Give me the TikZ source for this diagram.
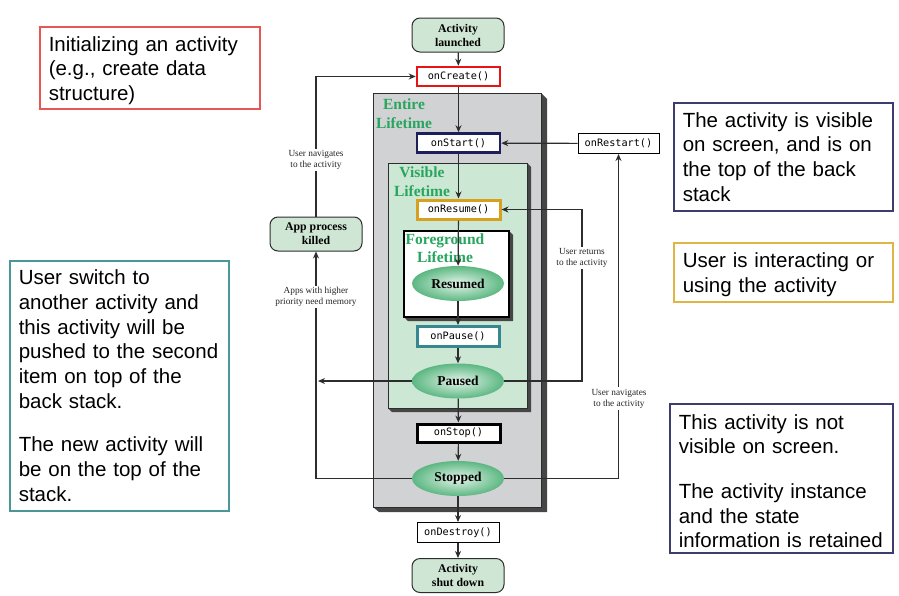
\documentclass[tikz,border=0pt]{standalone}
\usepackage{fontspec}
\setmainfont{Liberation Serif}
\newfontfamily\arialfont{Liberation Sans}
\newfontfamily\codefont{DejaVu Sans Mono}
\usetikzlibrary{arrows.meta,shapes.geometric}
\definecolor{termfill}{RGB}{207,230,212}
\definecolor{greyfill}{RGB}{209,210,212}
\definecolor{visfill}{RGB}{204,232,212}
\definecolor{shadowc}{RGB}{70,70,70}
\definecolor{lifegreen}{RGB}{40,165,95}
\definecolor{ellin}{RGB}{228,244,233}
\definecolor{ellout}{RGB}{92,183,130}
\definecolor{linec}{RGB}{45,45,45}
\definecolor{createc}{RGB}{230,20,20}
\definecolor{startc}{RGB}{30,30,90}
\definecolor{resumec}{RGB}{215,160,30}
\definecolor{pausec}{RGB}{55,135,145}
\definecolor{boxred}{RGB}{232,85,85}
\definecolor{boxnavy}{RGB}{60,60,110}
\definecolor{boxgold}{RGB}{225,180,70}
\definecolor{boxteal}{RGB}{75,150,150}
\tikzset{
  term/.style={draw=linec, line width=1pt, fill=termfill, rounded corners=8pt,
    minimum width=92pt, minimum height=34pt, inner sep=0pt, align=center,
    font=\bfseries\fontsize{11.8}{14}\selectfont},
  method/.style={draw=black, line width=1pt, fill=white, minimum width=83pt,
    minimum height=19pt, inner sep=0pt, font=\codefont\fontsize{10.2}{12}\selectfont},
  state/.style={ellipse, minimum width=92pt, minimum height=35pt, inner sep=0pt,
    inner color=ellin, outer color=ellout, font=\bfseries\fontsize{13.5}{16}\selectfont},
  lifetxt/.style={text=lifegreen, align=center, inner sep=0pt,
    font=\bfseries\fontsize{15.5}{18.5}\selectfont},
  lbl/.style={fill=white, align=center, inner sep=1.5pt,
    font=\fontsize{9.3}{11}\selectfont, text=black!85},
  arr/.style={draw=linec, line width=1.2pt, -{Stealth[length=7pt,width=6pt]}},
  note/.style={line width=1.5pt, fill=white, align=left, inner ysep=0pt,
    font=\arialfont\fontsize{20.5}{24.7}\selectfont, text=black},
}
\begin{document}
\begin{tikzpicture}[x=1pt,y=-1pt]
\useasboundingbox (0,0) rectangle (899,595);

% Entire lifetime box
\fill[shadowc] (541,93) -- (547,99) -- (547,512) -- (379,512) -- (373,507) -- (541,507) -- cycle;
\draw[fill=greyfill, draw=linec, line width=1pt] (373,93) rectangle (541,507);
% Visible lifetime box
\fill[shadowc] (527,163) -- (531,167) -- (531,412) -- (392,412) -- (388,408) -- (527,408) -- cycle;
\draw[fill=visfill, draw=linec, line width=1pt] (388,163) rectangle (527,408);
% Foreground lifetime box
\fill[shadowc] (509,231) -- (513,235) -- (513,321) -- (408,321) -- (404,317) -- (509,317) -- cycle;
\draw[fill=white, draw=black, line width=2pt] (404,231) rectangle (509,317);

\node[lifetxt] (entire) at (404,113.5) {Entire\\Lifetime};
\node[lifetxt] (visible) at (422,181.5) {Visible\\Lifetime};
\node[lifetxt] (fore) at (445,248) {Foreground\\Lifetime};

% main nodes
\node[term] (launch) at (458,35) {Activity\\launched};
\node[method, draw=createc, line width=2.5pt] (create) at (458.5,76.5) {onCreate()};
\node[method, draw=startc, line width=2.5pt] (start) at (458.5,143) {onStart()};
\node[method, minimum width=81pt, minimum height=20pt] (restart) at (618.5,143.5) {onRestart()};
\node[method, draw=resumec, line width=3pt] (resume) at (458.5,209.5) {onResume()};
\node[state] (resumed) at (458,283.5) {Resumed};
\node[method, draw=pausec, line width=3pt, minimum width=82pt, minimum height=20pt] (pause) at (458,336.5) {onPause()};
\node[state] (paused) at (458,381) {Paused};
\node[method, draw=black, line width=3pt, minimum height=18pt] (stop) at (458.5,433) {onStop()};
\node[state] (stopped) at (458,478.5) {Stopped};
\node[method, minimum width=82pt, minimum height=20pt] (destroy) at (458,532.5) {onDestroy()};
\node[term] (shut) at (458,575.5) {Activity\\shut down};
\node[term] (killed) at (316,234) {App process\\killed};

\coordinate (ll) at (318,0);
\coordinate (rr) at (582,0);

% connectors
\draw[arr] (launch) -- (create);
\draw[arr] (create) -- (start);
\draw[arr] (start) -- (resume);
\draw[arr] (resume) -- (resumed);
\draw[arr] (resumed) -- (pause);
\draw[arr] (pause) -- (paused);
\draw[arr] (paused) -- (stop);
\draw[arr] (stop) -- (stopped);
\draw[arr] (stopped) -- (destroy);
\draw[arr] (destroy) -- (shut);
\draw[arr] (restart) -- (start);
\draw[arr] (stopped.east) -| (restart.south);
\draw[arr] (paused.east) -| (rr |- resume.east) -- (resume.east);
\draw[arr] (paused.west) -- (ll |- paused.west);
\draw[arr] (stopped.west) -| (killed.south);
\draw[arr] (killed.north) |- (create.west);

% labels
\node[lbl] (lab1) at (316,160) {User navigates\\to the activity};
\node[lbl] (lab2) at (316,297) {Apps with higher\\priority need memory};
\node[lbl] (lab3) at (582,258) {User returns\\to the activity};
\node[lbl] (lab4) at (619,398.5) {User navigates\\to the activity};

% notes
\node[note, draw=boxred, anchor=north west, inner xsep=9pt, text width=202pt, minimum height=82pt] (n1) at (39,26)
  {\rule{0pt}{20.7pt}Initializing an activity\\(e.g., create data\\structure)};
\node[note, draw=boxnavy, anchor=north west, inner xsep=9pt, text width=201pt, minimum height=108pt] (n2) at (673,102)
  {The activity is visible\\on screen, and is on\\the top of the back\\stack};
\node[note, draw=boxgold, anchor=north west, inner xsep=9pt, text width=201pt, minimum height=59pt] (n3) at (673,242)
  {\rule{0pt}{19.8pt}User is interacting or\\using the activity};
\node[note, draw=boxteal, anchor=north west, inner xsep=9pt, text width=201pt, minimum height=250pt] (n4) at (9,260)
  {User switch to\\another activity and\\this activity will be\\pushed to the second\\item on top of the\\back stack.\\[19pt]The new activity will\\be on the top of the\\stack.};
\node[note, draw=boxnavy, anchor=north west, inner xsep=9pt, text width=205pt, minimum height=149pt] (n5) at (669,403)
  {\rule{0pt}{20.7pt}This activity is not\\visible on screen.\\[20pt]The activity instance\\and the state\\information is retained};
\end{tikzpicture}
\end{document}
